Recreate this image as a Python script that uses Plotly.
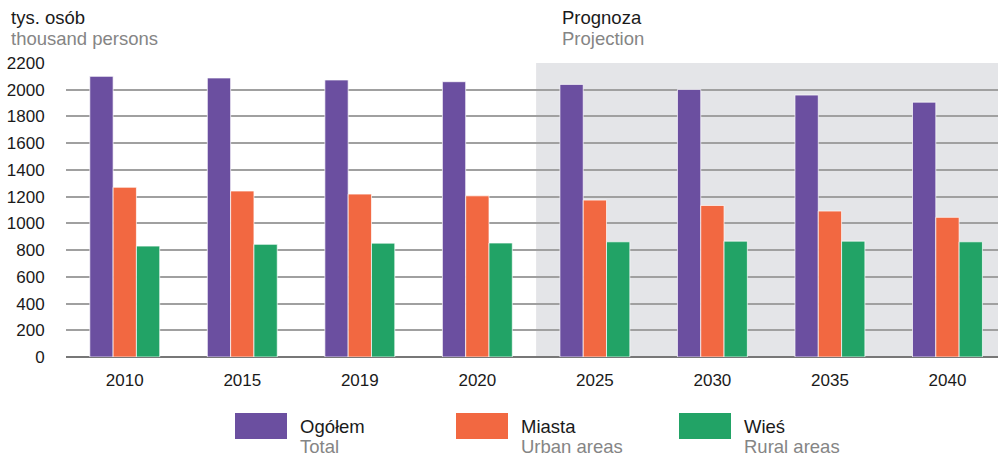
import plotly.graph_objects as go

# data (thousand persons)
years = ["2010", "2015", "2019", "2020", "2025", "2030", "2035", "2040"]
total = [2100, 2088, 2073, 2060, 2040, 2002, 1960, 1907]
urban = [1270, 1242, 1219, 1206, 1174, 1134, 1092, 1045]
rural = [830, 843, 852, 853, 862, 867, 867, 862]

series_pl = ["Ogółem", "Miasta", "Wieś"]
series_en = ["Total", "Urban areas", "Rural areas"]
colors = ["#6B4FA0", "#F26841", "#22A366"]

FONT = "Liberation Sans, Arial, sans-serif"
GREY = "#858585"
TXT = 18.5

fig = go.Figure()
for vals, name, color in zip([total, urban, rural], series_pl, colors):
    fig.add_trace(
        go.Bar(
            x=years,
            y=vals,
            name=name,
            marker=dict(color=color, line=dict(color="rgba(255,255,255,0.7)", width=1)),
            showlegend=False,
        )
    )

# projection shading
fig.add_shape(
    type="rect", xref="x", yref="y", x0=3.5, x1=7.6, y0=0, y1=2200,
    fillcolor="#E4E5E8", line_width=0, layer="below",
)

annotations = [
    dict(x=9, y=18, text="tys. osób", color="#1a1a1a"),
    dict(x=9, y=38, text="thousand persons", color=GREY),
    dict(x=560, y=18, text="Prognoza", color="#1a1a1a"),
    dict(x=560, y=38, text="Projection", color=GREY),
]

# legend swatches + two-line labels
legend_x = [235, 456, 679]
for lx, pl, en, color in zip(legend_x, series_pl, series_en, colors):
    fig.add_shape(
        type="rect", xref="paper", yref="paper",
        x0=(lx - 66) / 932, x1=(lx + 52 - 66) / 932,
        y0=(357 - 439) / 294, y1=(357 - 413) / 294,
        fillcolor=color, line_width=0,
    )
    annotations.append(dict(x=lx + 63, y=426, text=pl, color="#1a1a1a"))
    annotations.append(dict(x=lx + 63, y=446, text=en, color=GREY))

fig.update_layout(
    annotations=[
        dict(
            x=(a["x"] - 66) / 932, y=(357 - a["y"]) / 294,
            xref="paper", yref="paper", xanchor="left", yanchor="middle",
            text=a["text"], showarrow=False,
            font=dict(family=FONT, size=TXT, color=a["color"]),
        )
        for a in annotations
    ],
    barmode="group",
    bargap=0.405,
    bargroupgap=0,
    width=999,
    height=456,
    margin=dict(l=66, r=1, t=63, b=99),
    paper_bgcolor="white",
    plot_bgcolor="rgba(0,0,0,0)",
    font=dict(family=FONT, size=17, color="#1a1a1a"),
)
fig.update_yaxes(
    range=[0, 2200], dtick=200, showgrid=True, gridcolor="#a0a0a0", gridwidth=1.5,
    zeroline=True, zerolinecolor="#777", zerolinewidth=1.5,
    ticks="outside", ticklen=17, tickcolor="rgba(0,0,0,0)",
    tickfont=dict(family=FONT, size=17, color="#1a1a1a"),
)
fig.update_xaxes(
    showgrid=False, showline=False, ticks="outside", ticklen=8,
    tickcolor="rgba(0,0,0,0)", range=[-0.5, 7.43],
    tickfont=dict(family=FONT, size=17, color="#1a1a1a"),
)

fig.write_html(
    "out.html",
    config={"displayModeBar": False},
    post_script="document.body.style.margin='0';",
)
